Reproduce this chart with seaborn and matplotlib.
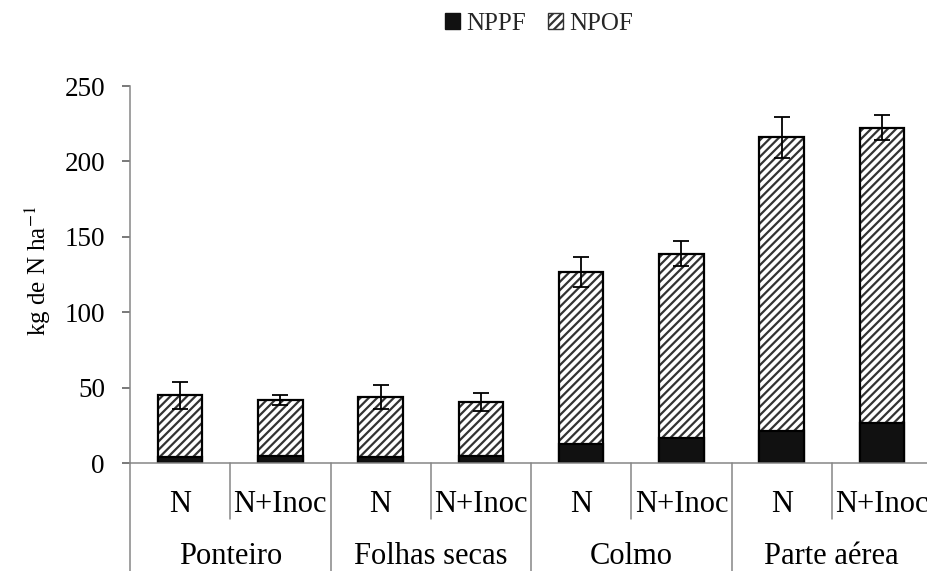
import matplotlib
matplotlib.use("Agg")
import matplotlib.pyplot as plt
import matplotlib.patches as mpatches
import matplotlib.transforms as mtransforms
import numpy as np
import pandas as pd
import seaborn as sns

# --- data -------------------------------------------------------------
groups = ["Ponteiro", "Folhas secas", "Colmo", "Parte aérea"]
treatments = ["N", "N+Inoc"]
nppf = [4, 5, 4, 5, 13, 17, 21.5, 26.5]            # N derived from fertilizer
npof = [41, 37, 40, 35.5, 113.5, 122, 194.5, 196]   # N from other sources
err = [9, 3.5, 8, 5.8, 10, 8.5, 13.5, 8.6]          # error on the total
y_ticks = [0, 50, 100, 150, 200, 250]

# --- frame ------------------------------------------------------------
keys = [f"{g}|{t}" for g in groups for t in treatments]
total = [a + b for a, b in zip(nppf, npof)]
df = pd.DataFrame({"key": keys, "nppf": nppf, "npof": npof, "total": total, "err": err})

sns.set_theme(style="white")
plt.rcParams["font.family"] = ["Liberation Serif", "DejaVu Serif"]
plt.rcParams["mathtext.fontset"] = "stix"
plt.rcParams["hatch.linewidth"] = 1.6

W, H = 928, 571
fig = plt.figure(figsize=(W / 100, H / 100), dpi=100)
x0, x1, y0, y1 = 130, 932, 463.3, 86
ax = fig.add_axes([x0 / W, 1 - y0 / H, (x1 - x0) / W, (y0 - y1) / H])

bw = 0.445
hatch_col = "#333333"

# hatched total bars (NPOF visible above the NPPF part)
sns.barplot(data=df, x="key", y="total", order=keys, ax=ax, width=bw,
            color="white", edgecolor=hatch_col, linewidth=0, hatch="////",
            errorbar=None, saturation=1)
# outlines of the stacked bars
sns.barplot(data=df, x="key", y="total", order=keys, ax=ax, width=bw,
            fill=False, edgecolor="black", linewidth=1.6, errorbar=None)
# NPPF part in solid black
sns.barplot(data=df, x="key", y="nppf", order=keys, ax=ax, width=bw,
            color="#111111", edgecolor="black", linewidth=1.6,
            errorbar=None, saturation=1)

xpos = np.arange(len(keys))
ax.errorbar(xpos, df["total"], yerr=df["err"], fmt="none", ecolor="black",
            elinewidth=1.3, capsize=6, capthick=1.3, zorder=5)

# --- axes styling -----------------------------------------------------
ax.set_xlim(-0.5, len(keys) - 0.5)
ax.set_ylim(0, 250)
ax.set_yticks(y_ticks)
ax.set_yticklabels([str(v) for v in y_ticks], fontsize=19.5)
ax.set_xticks([])
ax.set_xlabel("")
ax.set_ylabel("")
for side in ["top", "right"]:
    ax.spines[side].set_visible(False)
axis_col = "#868686"
ax.spines["left"].set_color(axis_col)
ax.spines["bottom"].set_color(axis_col)
ax.spines["left"].set_linewidth(1.1)
ax.spines["bottom"].set_linewidth(1.1)
ax.tick_params(axis="y", direction="out", length=6, width=1.1,
               color="#555555", pad=12, left=True, labelcolor="black")
ax.grid(False)

# --- two-level category axis -----------------------------------------
trans = mtransforms.blended_transform_factory(ax.transData, fig.transFigure)
def fy(px):
    return 1 - px / H

for i in range(len(keys)):
    ax.text(i, fy(511.5), treatments[i % 2], transform=trans, ha="center",
            va="baseline", fontsize=22, color="black", clip_on=False)
for g, name in enumerate(groups):
    ax.text(2 * g + 0.5, fy(564), name, transform=trans, ha="center",
            va="baseline", fontsize=22, color="black", clip_on=False)

for xs in [0.5, 2.5, 4.5, 6.5]:
    ax.plot([xs, xs], [fy(y0), fy(519)], transform=trans, color=axis_col,
            lw=1.1, clip_on=False)
for xs in [-0.5, 1.5, 3.5, 5.5, 7.5]:
    ax.plot([xs, xs], [fy(y0), fy(H + 2)], transform=trans, color=axis_col,
            lw=1.1, clip_on=False)

fig.text(38 / W, fy(271), "kg de N ha$^{-1}$", rotation=90, ha="center",
         va="center", fontsize=18, color="black")

# --- legend -----------------------------------------------------------
h1 = mpatches.Patch(facecolor="#111111", edgecolor="#111111", label="NPPF")
h2 = mpatches.Patch(facecolor="white", edgecolor=hatch_col, hatch="////",
                    linewidth=1.0, label="NPOF")
fig.legend(handles=[h1, h2], loc="center", bbox_to_anchor=(539 / W, fy(24)),
           ncol=2, frameon=False, fontsize=18, handlelength=0.6,
           handleheight=0.6, handletextpad=0.25, columnspacing=0.9,
           borderpad=0, borderaxespad=0)

fig.savefig("out.png", dpi=100)
